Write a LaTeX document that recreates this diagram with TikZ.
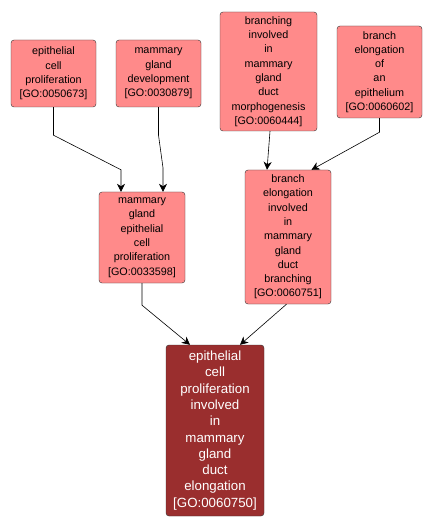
\documentclass[tikz,border=0pt]{standalone}
\usepackage{fontspec}
\setmainfont{Liberation Sans}
\usetikzlibrary{arrows.meta}
\definecolor{termred}{HTML}{FF8A8A}
\definecolor{focusred}{HTML}{9A2E2E}

\begin{document}
\begin{tikzpicture}[x=1pt,y=-1pt,
  term/.style={draw=black!80,fill=termred,rounded corners=3pt,align=center,
    inner sep=0pt,font=\fontsize{10.8}{14.3}\selectfont},
  focus/.style={term,fill=focusred,text=white,font=\fontsize{13.3}{16.3}\selectfont},
  edge/.style={semithick,-{Stealth[length=8pt,width=8pt,inset=2.5pt]}}]
\useasboundingbox (0,0) rectangle (433,529);

% Top row
\node[term,minimum width=85pt,minimum height=67pt] (ecp) at (53.5,73.5)
  {epithelial\\cell\\proliferation\\{[GO:0050673]}};
\node[term,minimum width=85pt,minimum height=67pt] (mgd) at (158.5,73.5)
  {mammary\\gland\\development\\{[GO:0030879]}};
\node[term,minimum width=97pt,minimum height=119pt] (bimgdm) at (268.5,71.5)
  {branching\\involved\\in\\mammary\\gland\\duct\\morphogenesis\\{[GO:0060444]}};
\node[term,minimum width=85pt,minimum height=92pt] (beoe) at (379.5,72)
  {branch\\elongation\\of\\an\\epithelium\\{[GO:0060602]}};

% Middle row
\node[term,minimum width=86pt,minimum height=91pt] (mgecp) at (142,237.5)
  {mammary\\gland\\epithelial\\cell\\proliferation\\{[GO:0033598]}};
\node[term,minimum width=86pt,minimum height=134pt] (beimgdb) at (288,237)
  {branch\\elongation\\involved\\in\\mammary\\gland\\duct\\branching\\{[GO:0060751]}};

% Focus term
\node[focus,minimum width=98pt,minimum height=171pt] (ecpimgde) at (215,430.5)
  {epithelial\\cell\\proliferation\\involved\\in\\mammary\\gland\\duct\\elongation\\{[GO:0060750]}};

% Edges
\draw[edge] (ecp.south) -- ++(0,28) -- ([xshift=-21pt,yshift=22pt]mgecp.north)
  -- ([xshift=-21pt]mgecp.north);
\draw[edge] (mgd.south) -- ++(0,28) -- ([xshift=21pt,yshift=24pt]mgecp.north)
  -- ([xshift=21pt]mgecp.north);
\draw[edge] ([xshift=1.5pt]bimgdm.south) -- ([xshift=-21pt]beimgdb.north);
\draw[edge] (beoe.south) -- ++(0,14) -- ([xshift=23.5pt]beimgdb.north);
\draw[edge] (mgecp.south) -- ++(0,22) -- ([xshift=-25pt]ecpimgde.north);
\draw[edge] ([xshift=-1.5pt]beimgdb.south) -- ([xshift=25pt]ecpimgde.north);
\end{tikzpicture}
\end{document}
